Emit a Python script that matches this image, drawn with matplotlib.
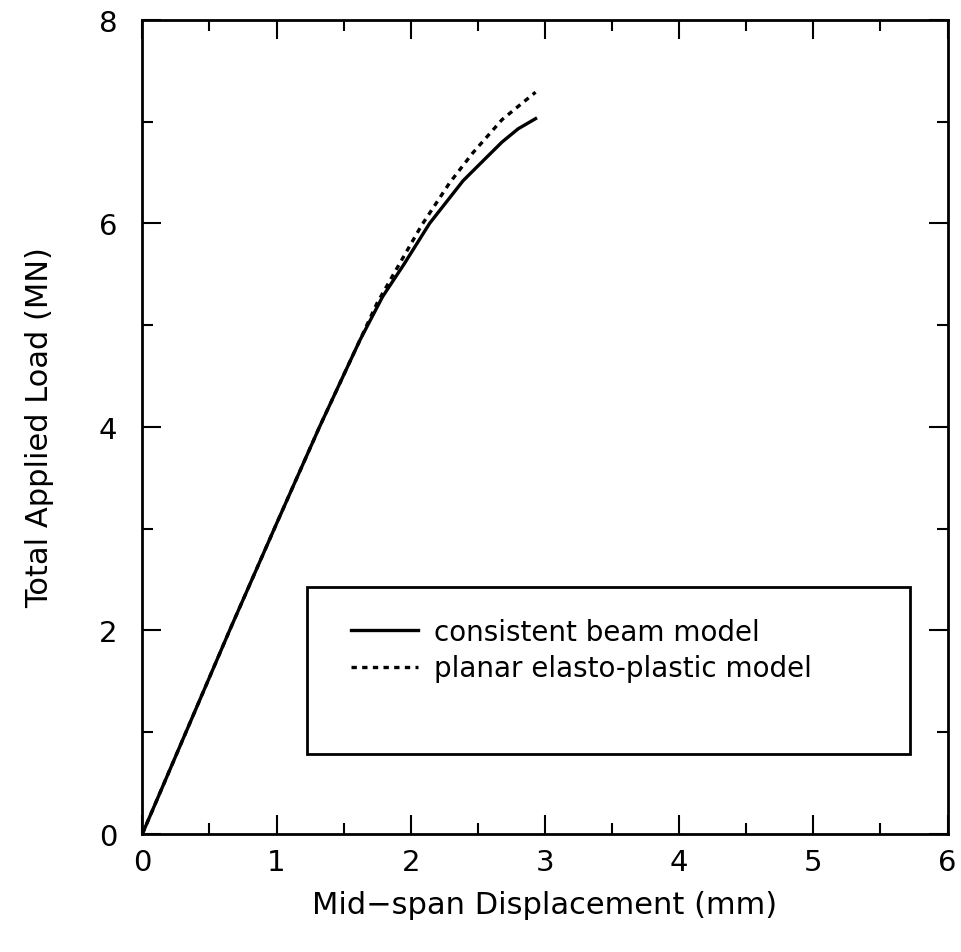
import matplotlib
matplotlib.use('Agg')
import matplotlib.pyplot as plt
from matplotlib.patches import Rectangle
from matplotlib.ticker import MultipleLocator

# consistent beam model
beam_x = [0.0, 0.65, 1.00, 1.32, 1.62, 1.79, 1.95, 2.14, 2.39, 2.55, 2.68, 2.80, 2.93]
beam_y = [0.0, 2.00, 3.05, 4.00, 4.85, 5.28, 5.60, 6.00, 6.42, 6.63, 6.80, 6.93, 7.03]

# planar elasto-plastic model
planar_x = [0.0, 0.65, 1.00, 1.32, 1.62, 1.75, 1.88, 2.08, 2.29, 2.46, 2.68, 2.80, 2.93]
planar_y = [0.0, 2.00, 3.05, 4.00, 4.85, 5.22, 5.52, 5.98, 6.40, 6.69, 7.02, 7.15, 7.29]

plt.rcParams['font.family'] = 'DejaVu Sans'

fig = plt.figure(figsize=(9.62, 9.53), dpi=100)
ax = fig.add_axes([0.148, 0.124, 0.837, 0.854])

ax.plot(beam_x, beam_y, color='black', lw=2.4, label='consistent beam model')
ax.plot(planar_x, planar_y, color='black', lw=2.4, linestyle=(0, (1.6, 1.6)),
        label='planar elasto-plastic model')

ax.set_xlim(0, 6)
ax.set_ylim(0, 8)
ax.xaxis.set_major_locator(MultipleLocator(1))
ax.xaxis.set_minor_locator(MultipleLocator(0.5))
ax.yaxis.set_major_locator(MultipleLocator(2))
ax.yaxis.set_minor_locator(MultipleLocator(1))
ax.tick_params(which='both', direction='in', top=True, right=True, width=1.5)
ax.tick_params(which='major', length=14, labelsize=21)
ax.tick_params(which='minor', length=8)
ax.tick_params(axis='x', pad=10)
ax.tick_params(axis='y', pad=18)
for s in ax.spines.values():
    s.set_linewidth(2)

ax.set_xlabel('Mid\u2212span Displacement (mm)', fontsize=22, labelpad=10)
ax.set_ylabel('Total Applied Load (MN)', fontsize=22, labelpad=32)

# legend box
ax.add_patch(Rectangle((0.205, 0.098), 0.748, 0.205, transform=ax.transAxes,
                       fill=False, edgecolor='black', lw=2, zorder=3))
ax.legend(frameon=False, loc='upper left', bbox_to_anchor=(0.228, 0.296),
          fontsize=20, handlelength=2.4, handletextpad=0.6, labelspacing=0.3)

fig.savefig('out.png', dpi=100)
